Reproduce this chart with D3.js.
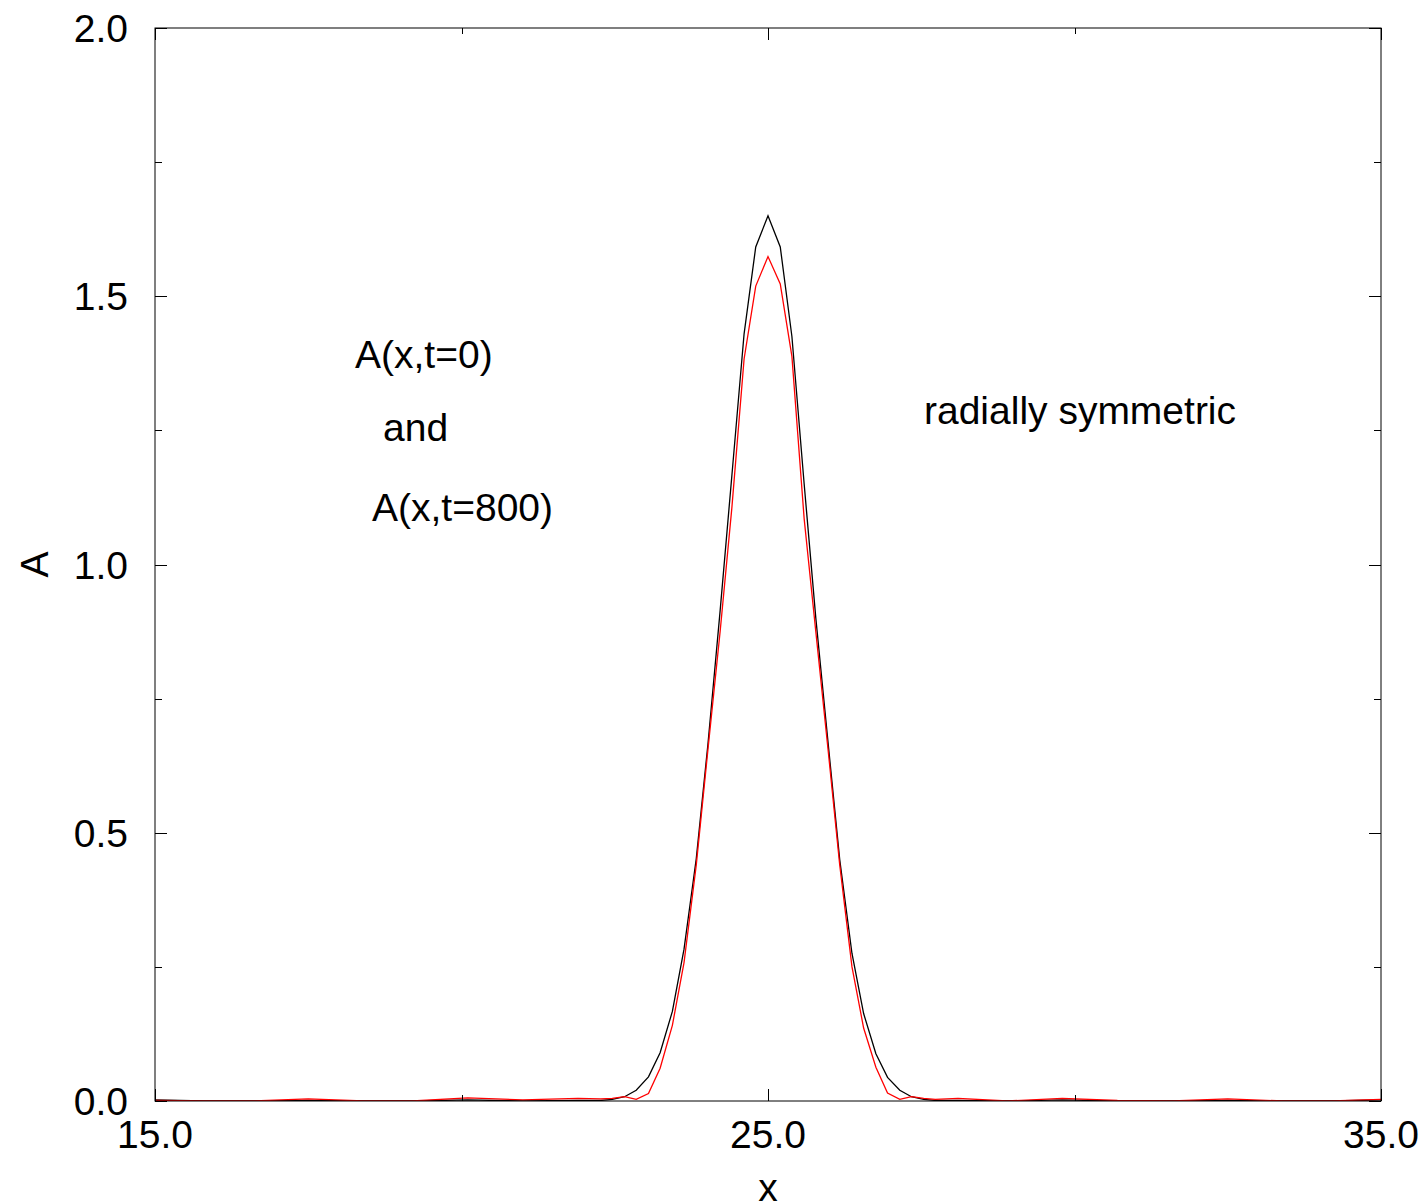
<!DOCTYPE html>
<html>
<head>
<meta charset="utf-8">
<script src="https://cdn.jsdelivr.net/npm/d3@7"></script>
<style>
  body { margin: 0; background: #fff; }
  svg { display: block; }
  text { font-family: "Liberation Sans", Arial, sans-serif; fill: #000; }
</style>
</head>
<body>
<div id="chart"></div>
<script>
// x positions of the grid points around the peak (step ~0.195)
const xPeak = [22.27, 22.46, 22.66, 22.85, 23.05, 23.24, 23.44, 23.63, 23.83, 24.02,
               24.22, 24.41, 24.61, 24.80, 25.00, 25.20, 25.39, 25.59, 25.78, 25.98,
               26.17, 26.37, 26.56, 26.76, 26.95, 27.15, 27.34, 27.54, 27.73];
// A(x, t=0) near the peak
const aStartPeak = [0.001, 0.003, 0.008, 0.020, 0.045, 0.090, 0.167, 0.283, 0.452, 0.665,
                    0.915, 1.165, 1.430, 1.592, 1.650, 1.592, 1.425, 1.150, 0.900, 0.668,
                    0.450, 0.275, 0.163, 0.088, 0.044, 0.020, 0.008, 0.003, 0.001];
// A(x, t=800) near the peak
const aEndPeak = [0.004, 0.005, 0.008, 0.003, 0.014, 0.061, 0.141, 0.258, 0.440, 0.655,
                  0.876, 1.105, 1.383, 1.519, 1.574, 1.523, 1.388, 1.085, 0.875, 0.655,
                  0.440, 0.250, 0.136, 0.063, 0.015, 0.003, 0.008, 0.005, 0.003];

// flat tails left and right of the peak
const xLeftTail  = [15.0, 15.8, 16.6, 17.5, 18.4, 19.2, 20.1, 21.0, 21.9];
const aStartLeft = [0.002, 0.000, 0.000, 0.001, 0.000, 0.000, 0.002, 0.000, 0.001];
const aEndLeft   = [0.001, 0.000, 0.000, 0.004, 0.000, 0.000, 0.006, 0.002, 0.005];
const xRightTail  = [28.1, 28.9, 29.8, 30.7, 31.6, 32.5, 33.4, 34.2, 35.0];
const aStartRight = [0.001, 0.000, 0.002, 0.000, 0.000, 0.001, 0.000, 0.000, 0.002];
const aEndRight   = [0.005, 0.000, 0.005, 0.001, 0.000, 0.004, 0.000, 0.000, 0.003];

const xTicksMajor = [15, 25, 35];
const xTicksMinor = [20, 30];
const yTicksMajor = [0, 0.5, 1.0, 1.5, 2.0];
const yTicksMinor = [0.25, 0.75, 1.25, 1.75];

const notes = [
  {text: "A(x,t=0)", x: 355, y: 368},
  {text: "and", x: 383, y: 441},
  {text: "A(x,t=800)", x: 372, y: 521},
  {text: "radially symmetric", x: 924, y: 424}
];

const W = 1425, H = 1204;
const plot = {left: 155, right: 1381, top: 28, bottom: 1101};
const fs = 39;

const svg = d3.select("#chart").append("svg")
    .attr("width", W)
    .attr("height", H);

const x = d3.scaleLinear().domain([15, 35]).range([plot.left, plot.right]);
const y = d3.scaleLinear().domain([0, 2]).range([plot.bottom, plot.top]);

function join(xs1, ys1, xs2, ys2, xs3, ys3) {
    const pts = [];
    xs1.forEach((v, i) => pts.push([v, ys1[i]]));
    xs2.forEach((v, i) => pts.push([v, ys2[i]]));
    xs3.forEach((v, i) => pts.push([v, ys3[i]]));
    return pts;
}
const startData = join(xLeftTail, aStartLeft, xPeak, aStartPeak, xRightTail, aStartRight);
const endData = join(xLeftTail, aEndLeft, xPeak, aEndPeak, xRightTail, aEndRight);

svg.append("clipPath").attr("id", "clip")
  .append("rect")
    .attr("x", plot.left).attr("y", plot.top)
    .attr("width", plot.right - plot.left)
    .attr("height", plot.bottom - plot.top);

const line = d3.line().x(d => x(d[0])).y(d => y(d[1]));

svg.append("path")
    .datum(startData)
    .attr("clip-path", "url(#clip)")
    .attr("fill", "none")
    .attr("stroke", "#000")
    .attr("stroke-width", 1.3)
    .attr("d", line);

svg.append("path")
    .datum(endData)
    .attr("clip-path", "url(#clip)")
    .attr("fill", "none")
    .attr("stroke", "#ff0000")
    .attr("stroke-width", 1.3)
    .attr("d", line);

// frame
svg.append("rect")
    .attr("x", plot.left).attr("y", plot.top)
    .attr("width", plot.right - plot.left)
    .attr("height", plot.bottom - plot.top)
    .attr("fill", "none")
    .attr("stroke", "#000")
    .attr("stroke-width", 1);

// inward ticks on all four sides
const ticks = svg.append("g").attr("stroke", "#000").attr("stroke-width", 1);
function xTick(v, len) {
    const px = Math.round(x(v)) + 0.5;
    ticks.append("line").attr("x1", px).attr("x2", px).attr("y1", plot.bottom).attr("y2", plot.bottom - len);
    ticks.append("line").attr("x1", px).attr("x2", px).attr("y1", plot.top).attr("y2", plot.top + len);
}
function yTick(v, len) {
    const py = Math.round(y(v)) + 0.5;
    ticks.append("line").attr("x1", plot.left).attr("x2", plot.left + len).attr("y1", py).attr("y2", py);
    ticks.append("line").attr("x1", plot.right).attr("x2", plot.right - len).attr("y1", py).attr("y2", py);
}
xTicksMajor.forEach(v => xTick(v, 12));
xTicksMinor.forEach(v => xTick(v, 6));
yTicksMajor.forEach(v => yTick(v, 12));
yTicksMinor.forEach(v => yTick(v, 7));

// tick labels
svg.selectAll(".xlab")
  .data(xTicksMajor)
  .join("text")
    .attr("x", d => x(d))
    .attr("y", 1148)
    .attr("text-anchor", "middle")
    .attr("font-size", fs)
    .text(d => d.toFixed(1));

svg.selectAll(".ylab")
  .data(yTicksMajor)
  .join("text")
    .attr("x", 128)
    .attr("y", d => y(d) + 14)
    .attr("text-anchor", "end")
    .attr("font-size", fs)
    .text(d => d.toFixed(1));

// axis titles
svg.append("text")
    .attr("x", x(25))
    .attr("y", 1201)
    .attr("text-anchor", "middle")
    .attr("font-size", fs)
    .text("x");

svg.append("text")
    .attr("transform", "translate(48," + y(1.0) + ") rotate(-90)")
    .attr("text-anchor", "middle")
    .attr("font-size", fs)
    .text("A");

// annotations
svg.selectAll(".note")
  .data(notes)
  .join("text")
    .attr("x", d => d.x)
    .attr("y", d => d.y)
    .attr("font-size", fs)
    .text(d => d.text);
</script>
</body>
</html>
